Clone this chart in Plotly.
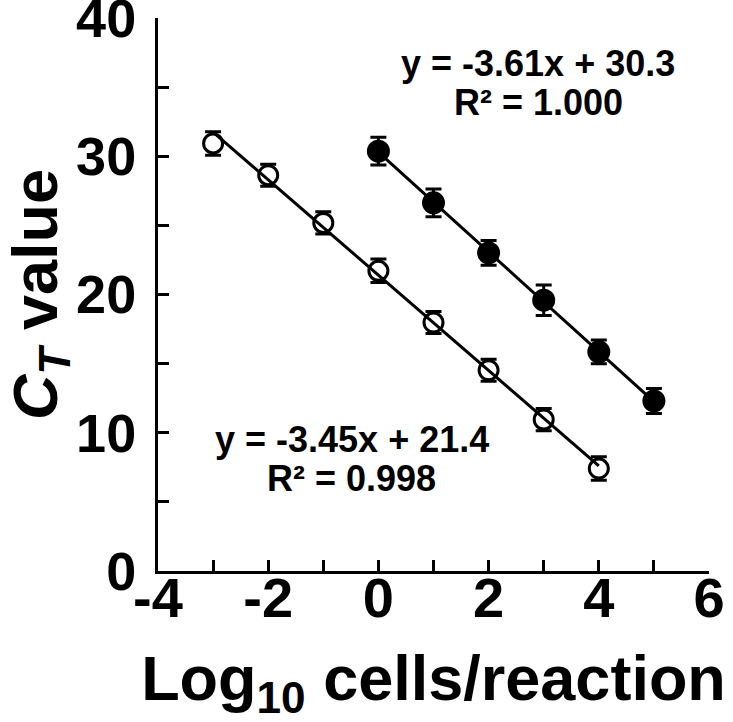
"""
plot.py - curva padrão qPCR (CT vs log10 células/reação)
"""

import plotly.graph_objects as go

# Dados
log_cells_open = [-3, -2, -1, 0, 1, 2, 3, 4]
ct_open = [30.93, 28.63, 25.18, 21.71, 17.97, 14.52, 10.95, 7.41]
err_open = [0.85, 0.8, 0.8, 0.85, 0.8, 0.8, 0.8, 0.85]

log_cells_filled = [0, 1, 2, 3, 4, 5]
ct_filled = [30.37, 26.63, 23.01, 19.59, 15.85, 12.30]
err_filled = [1.0, 1.0, 0.9, 1.1, 0.85, 0.9]

# Regressões indicadas no gráfico
slope_open, intercept_open, r2_open = -3.45, 21.4, 0.998
slope_filled, intercept_filled, r2_filled = -3.61, 30.3, 1.000

x_ticks = [-4, -2, 0, 2, 4, 6]
x_tick_labels = ['-4', '-2', '0', '2', '4', '6']
y_ticks = [0, 10, 20, 30, 40]

FONT = 'Arial, Liberation Sans, sans-serif'
BLACK = '#000000'


def fit_line(xs, slope, intercept):
    x_ends = [min(xs), max(xs)]
    return x_ends, [slope * x + intercept for x in x_ends]


def eq_labels(fig, x, y1, y2, slope, intercept, r2):
    """Equação e R² em duas linhas, como no original."""
    font = dict(family=FONT, size=36, color=BLACK, weight='bold')
    fig.add_annotation(x=x, y=y1, xref='x', yref='y', showarrow=False,
                       text=f'y = {slope:.2f}x + {intercept:.1f}', font=font)
    fig.add_annotation(x=x, y=y2, xref='x', yref='y', showarrow=False,
                       text=f'R² = {r2:.3f}', font=font)


fig = go.Figure()

# pontos abertos (preenchimento branco esconde a haste da barra de erro)
fig.add_trace(go.Scatter(
    x=log_cells_open, y=ct_open, mode='markers',
    marker=dict(symbol='circle', size=19, color='white',
                line=dict(color=BLACK, width=3)),
    error_y=dict(type='data', array=err_open, color=BLACK, thickness=3, width=8),
    showlegend=False
))
fig.add_trace(go.Scatter(
    x=log_cells_filled, y=ct_filled, mode='markers',
    marker=dict(symbol='circle', size=21, color=BLACK,
                line=dict(color=BLACK, width=2)),
    error_y=dict(type='data', array=err_filled, color=BLACK, thickness=3, width=8),
    showlegend=False
))

# retas de regressão por cima dos marcadores
lx, ly = fit_line(log_cells_open, slope_open, intercept_open)
fig.add_trace(go.Scatter(x=lx, y=ly, mode='lines',
                         line=dict(color=BLACK, width=3), showlegend=False))
lx, ly = fit_line(log_cells_filled, slope_filled, intercept_filled)
fig.add_trace(go.Scatter(x=lx, y=ly, mode='lines',
                         line=dict(color=BLACK, width=3), showlegend=False))

eq_labels(fig, 2.9, 36.7, 33.9, slope_filled, intercept_filled, r2_filled)
eq_labels(fig, -0.48, 9.5, 6.7, slope_open, intercept_open, r2_open)

fig.update_layout(
    width=733, height=722,
    margin=dict(l=158, r=24, t=18, b=151),
    plot_bgcolor='white', paper_bgcolor='white',
    font=dict(family=FONT, color=BLACK),
    xaxis=dict(
        range=[-4, 6], tickvals=x_ticks, ticktext=x_tick_labels,
        showline=True, linecolor=BLACK, linewidth=3,
        ticks='inside', ticklen=11, tickwidth=3, tickcolor=BLACK,
        minor=dict(dtick=1, ticks='inside', ticklen=11, tickwidth=3, tickcolor=BLACK),
        showgrid=False, zeroline=False, automargin=False,
        tickfont=dict(family=FONT, size=56, color=BLACK, weight='bold'),
        ticklabelstandoff=-24, ticklabeloverflow='allow',
        title=dict(text='Log<sub>10</sub> cells/reaction', standoff=40,
                   font=dict(family=FONT, size=63, color=BLACK, weight='bold')),
    ),
    yaxis=dict(
        range=[0, 40], tickvals=y_ticks,
        showline=True, linecolor=BLACK, linewidth=3,
        ticks='inside', ticklen=11, tickwidth=3, tickcolor=BLACK,
        minor=dict(dtick=5, ticks='inside', ticklen=11, tickwidth=3, tickcolor=BLACK),
        showgrid=False, zeroline=False, automargin=False,
        tickfont=dict(family=FONT, size=54, color=BLACK, weight='bold'),
        ticklabelstandoff=8, ticklabeloverflow='allow',
        title=dict(text='<i>C<sub>T</sub></i> value', standoff=38,
                   font=dict(family=FONT, size=63, color=BLACK, weight='bold')),
    ),
)

# tira a margem padrão do body para a figura ocupar a janela inteira
fig.write_html('out.html', config={'displayModeBar': False},
               post_script="document.body.style.margin='0';")
